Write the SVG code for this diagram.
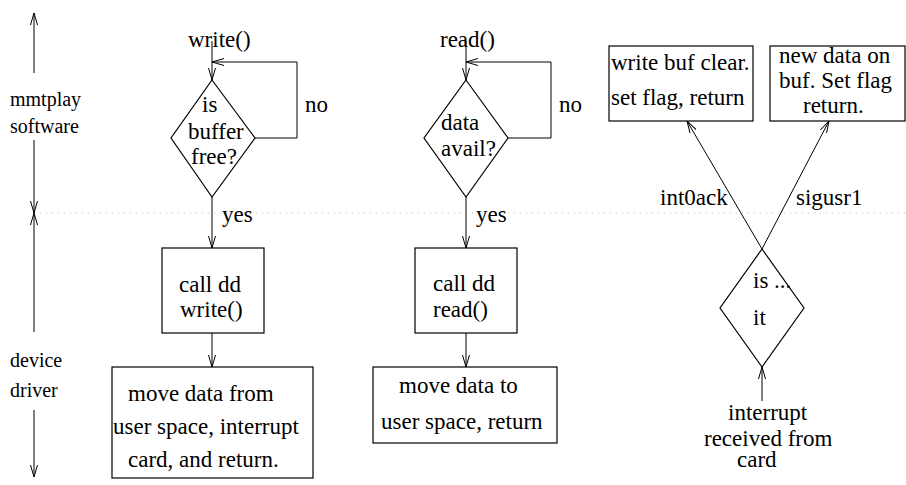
<svg xmlns="http://www.w3.org/2000/svg" width="906" height="485" viewBox="0 0 906 485">
  <style>
    text { font-family: "Liberation Serif", "Times New Roman", serif; font-size: 23px; fill: #000; }
    text.side { font-size: 20px; }
    .shape { fill: #fff; stroke: #000; stroke-width: 1.2; }
    .wire { fill: none; stroke: #000; stroke-width: 1; }
    .sep { stroke: #bdbdbd; stroke-width: 1; stroke-dasharray: 1 5; }
  </style>
  <defs>
    <marker id="open" viewBox="0 0 12 8" refX="12" refY="4" markerWidth="12" markerHeight="8" markerUnits="userSpaceOnUse" orient="auto">
      <path d="M0,0.5 L12,4 L0,7.5" fill="none" stroke="#000" stroke-width="1"/>
    </marker>
  </defs>

  <rect width="906" height="485" fill="#fff"/>

  <!-- layer boundary -->
  <line class="sep" x1="40" y1="213" x2="906" y2="213"/>

  <!-- layer axis on the left -->
  <g id="axis">
    <line class="wire" x1="34" y1="73" x2="34" y2="13" marker-end="url(#open)"/>
    <line class="wire" x1="34" y1="140" x2="34" y2="213" marker-end="url(#open)"/>
    <line class="wire" x1="34" y1="332" x2="34" y2="213" marker-end="url(#open)"/>
    <line class="wire" x1="34" y1="410" x2="34" y2="477" marker-end="url(#open)"/>
    <text class="side" x="10" y="106">mmtplay</text>
    <text class="side" x="10" y="133">software</text>
    <text class="side" x="10" y="367">device</text>
    <text class="side" x="10" y="397">driver</text>
  </g>

  <!-- write path -->
  <g id="write-entry">
    <text x="188" y="47">write()</text>
  </g>
  <g id="buffer-free">
    <polygon class="shape" points="212,80 255,138 212,197 171,138"/>
    <text x="202" y="112">is</text>
    <text x="188" y="139">buffer</text>
    <text x="191" y="164">free?</text>
  </g>
  <g id="call-dd-write">
    <rect class="shape" x="162" y="248" width="102" height="85"/>
    <text x="179" y="292">call dd</text>
    <text x="180" y="317">write()</text>
  </g>
  <g id="move-from-user">
    <rect class="shape" x="112" y="367" width="201" height="111"/>
    <text x="128" y="401">move data from</text>
    <text x="113" y="434">user space, interrupt</text>
    <text x="128" y="467">card, and return.</text>
  </g>

  <!-- read path -->
  <g id="read-entry">
    <text x="440" y="47">read()</text>
  </g>
  <g id="data-avail">
    <polygon class="shape" points="466,80 508,138 466,197 424,138"/>
    <text x="441" y="130">data</text>
    <text x="441" y="156">avail?</text>
  </g>
  <g id="call-dd-read">
    <rect class="shape" x="415" y="248" width="102" height="85"/>
    <text x="433" y="291">call dd</text>
    <text x="433" y="317">read()</text>
  </g>
  <g id="move-to-user">
    <rect class="shape" x="373" y="367" width="184" height="76"/>
    <text x="399" y="393">move data to</text>
    <text x="381" y="429">user space, return</text>
  </g>

  <!-- interrupt handling -->
  <g id="write-clear">
    <rect class="shape" x="609" y="46" width="144" height="75"/>
    <text x="611" y="70">write buf clear.</text>
    <text x="611" y="105">set flag, return</text>
  </g>
  <g id="new-data">
    <rect class="shape" x="770" y="46" width="135" height="75"/>
    <text x="779" y="63">new data on</text>
    <text x="779" y="88">buf. Set flag</text>
    <text x="803" y="113">return.</text>
  </g>
  <g id="which-int">
    <polygon class="shape" points="762,249 804,308 762,367 720,308"/>
    <text x="753" y="288">is ...</text>
    <text x="753" y="325">it</text>
  </g>
  <g id="interrupt-src">
    <text x="728" y="420">interrupt</text>
    <text x="704" y="446">received from</text>
    <text x="737" y="467">card</text>
  </g>

  <!-- connectors -->
  <g id="connectors">
    <line class="wire" x1="212" y1="41" x2="212" y2="80" marker-end="url(#open)"/>
    <path class="wire" d="M255,138 H297 V62 H212" marker-end="url(#open)"/>
    <line class="wire" x1="212" y1="197" x2="212" y2="248" marker-end="url(#open)"/>
    <line class="wire" x1="212" y1="333" x2="212" y2="367" marker-end="url(#open)"/>

    <line class="wire" x1="466" y1="41" x2="466" y2="80" marker-end="url(#open)"/>
    <path class="wire" d="M508,138 H551 V62 H466" marker-end="url(#open)"/>
    <line class="wire" x1="466" y1="197" x2="466" y2="248" marker-end="url(#open)"/>
    <line class="wire" x1="466" y1="333" x2="466" y2="367" marker-end="url(#open)"/>

    <line class="wire" x1="762" y1="249" x2="687" y2="121" marker-end="url(#open)"/>
    <line class="wire" x1="762" y1="249" x2="829" y2="121" marker-end="url(#open)"/>
    <line class="wire" x1="762" y1="401" x2="762" y2="367" marker-end="url(#open)"/>

    <text x="305" y="112">no</text>
    <text x="222" y="222">yes</text>
    <text x="559" y="112">no</text>
    <text x="476" y="222">yes</text>
    <text x="660" y="205">int0ack</text>
    <text x="796" y="205">sigusr1</text>
  </g>
</svg>
